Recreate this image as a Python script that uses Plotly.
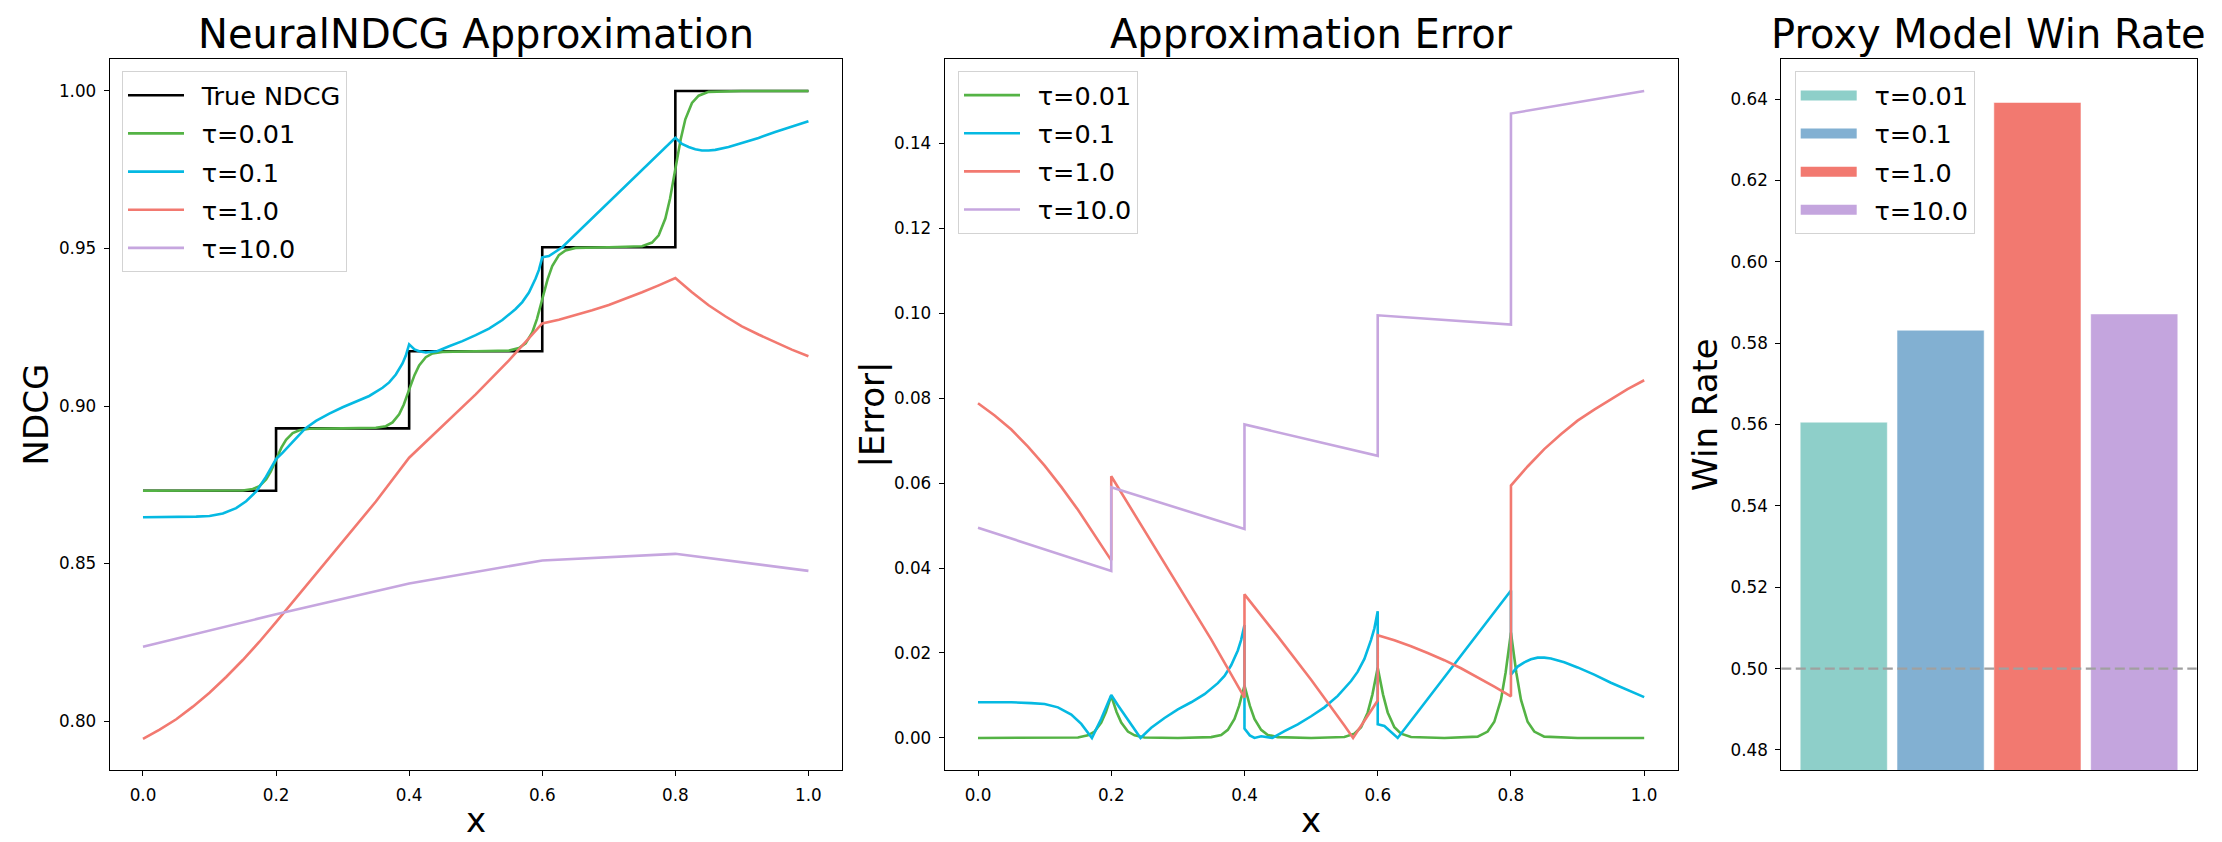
import plotly.graph_objects as go

# ---------------- data ----------------
# Left panel: NeuralNDCG approximation
x_true = [0.0, 0.2, 0.4, 0.6, 0.8, 1.0]
ndcg_true = [0.8731, 0.8929, 0.9174, 0.9504, 1.0000, 1.0000]

x_t001 = [0.0, 0.1, 0.15, 0.165, 0.175, 0.185, 0.192, 0.2, 0.208, 0.215, 0.225, 0.235, 0.25,
          0.3, 0.35, 0.365, 0.375, 0.385, 0.392, 0.4, 0.408, 0.415, 0.425, 0.435, 0.45,
          0.5, 0.55, 0.565, 0.575, 0.585, 0.592, 0.6, 0.608, 0.615, 0.625, 0.635, 0.65,
          0.7, 0.75, 0.765, 0.775, 0.785, 0.792, 0.8, 0.808, 0.815, 0.825, 0.835, 0.85,
          0.9, 1.0]
ndcg_t001 = [0.8731, 0.8731, 0.8732, 0.8737, 0.8746, 0.8767, 0.8792, 0.8830, 0.8868, 0.8893, 0.8914, 0.8923, 0.8928,
             0.8929, 0.8931, 0.8936, 0.8948, 0.8974, 0.9005, 0.9052, 0.9098, 0.9129, 0.9155, 0.9167, 0.9172,
             0.9174, 0.9176, 0.9184, 0.9199, 0.9234, 0.9276, 0.9339, 0.9402, 0.9444, 0.9479, 0.9494, 0.9502,
             0.9504, 0.9507, 0.9519, 0.9542, 0.9595, 0.9658, 0.9752, 0.9846, 0.9910, 0.9962, 0.9985, 0.9997,
             1.0000, 1.0000]

x_t01 = [0.0, 0.05, 0.08, 0.1, 0.12, 0.14, 0.155, 0.171, 0.185, 0.2,
         0.21, 0.225, 0.244, 0.26, 0.28, 0.3, 0.32, 0.34, 0.36, 0.37,
         0.38, 0.39, 0.395, 0.4, 0.408, 0.415, 0.425, 0.435, 0.442, 0.46,
         0.48, 0.5, 0.52, 0.54, 0.56, 0.57, 0.58, 0.59, 0.595, 0.6,
         0.61, 0.63, 0.66, 0.7, 0.75, 0.8, 0.81, 0.82, 0.83, 0.84,
         0.85, 0.86, 0.88, 0.9, 0.925, 0.95, 0.975, 1.0]
ndcg_t01 = [0.8647, 0.8647, 0.8649, 0.8651, 0.8659, 0.8676, 0.8698, 0.8731, 0.8776, 0.8832,
            0.8852, 0.8886, 0.8929, 0.8953, 0.8976, 0.8996, 0.9013, 0.9032, 0.9058, 0.9075,
            0.9100, 0.9135, 0.9160, 0.9196, 0.9180, 0.9174, 0.9170, 0.9172, 0.9174, 0.9190,
            0.9206, 0.9225, 0.9246, 0.9273, 0.9308, 0.9330, 0.9360, 0.9405, 0.9432, 0.9472,
            0.9476, 0.9504, 0.9565, 0.9647, 0.9749, 0.9851, 0.9832, 0.9822, 0.9815, 0.9811,
            0.9811, 0.9813, 0.9822, 0.9834, 0.9851, 0.9870, 0.9887, 0.9904]

x_t1 = [0.0, 0.025, 0.05, 0.075, 0.1, 0.125, 0.15, 0.175, 0.2, 0.25, 0.3, 0.35, 0.4,
        0.45, 0.5, 0.55, 0.6, 0.625, 0.65, 0.675, 0.7, 0.725, 0.75, 0.775, 0.8,
        0.825, 0.85, 0.875, 0.9, 0.925, 0.95, 0.975, 1.0]
ndcg_t1 = [0.7944, 0.7973, 0.8006, 0.8046, 0.8090, 0.8140, 0.8194, 0.8252, 0.8314, 0.8442, 0.8569, 0.8697, 0.8836,
           0.8935, 0.9037, 0.9145, 0.9262, 0.9274, 0.9288, 0.9304, 0.9321, 0.9340, 0.9361, 0.9383, 0.9406,
           0.9361, 0.9320, 0.9285, 0.9253, 0.9227, 0.9202, 0.9179, 0.9158]

x_t10 = [0.0, 0.2, 0.4, 0.6, 0.8, 1.0]
ndcg_t10 = [0.8236, 0.8339, 0.8437, 0.8510, 0.8531, 0.8477]

# Middle panel: absolute approximation error
x_err_t001 = x_t001
err_t001 = [0.0, 0.0, 0.0001, 0.0006, 0.0015, 0.0036, 0.0061, 0.0099, 0.0061, 0.0036, 0.0015, 0.0006, 0.0001,
            0.0, 0.0002, 0.0007, 0.0019, 0.0045, 0.0076, 0.0123, 0.0076, 0.0045, 0.0019, 0.0007, 0.0002,
            0.0, 0.0002, 0.0010, 0.0025, 0.0060, 0.0102, 0.0165, 0.0102, 0.0060, 0.0025, 0.0010, 0.0002,
            0.0, 0.0003, 0.0015, 0.0038, 0.0090, 0.0154, 0.0248, 0.0154, 0.0090, 0.0038, 0.0015, 0.0003,
            0.0, 0.0]

x_err_t01 = [0.0, 0.05, 0.08, 0.1, 0.12, 0.14, 0.155, 0.171, 0.185, 0.2,
             0.21, 0.225, 0.244, 0.26, 0.28, 0.3, 0.32, 0.34, 0.36, 0.37,
             0.38, 0.39, 0.395, 0.4, 0.4, 0.408, 0.415, 0.425, 0.435, 0.442,
             0.46, 0.48, 0.5, 0.52, 0.54, 0.56, 0.57, 0.58, 0.59, 0.595,
             0.6, 0.6, 0.61, 0.63, 0.66, 0.7, 0.75, 0.8, 0.8, 0.81,
             0.82, 0.83, 0.84, 0.85, 0.86, 0.88, 0.9, 0.925, 0.95, 0.975,
             1.0]
err_t01 = [0.0084, 0.0084, 0.0082, 0.0080, 0.0072, 0.0055, 0.0033, 0.0, 0.0045, 0.0101,
           0.0077, 0.0043, 0.0, 0.0024, 0.0047, 0.0067, 0.0084, 0.0103, 0.0129, 0.0146,
           0.0171, 0.0206, 0.0231, 0.0266, 0.0022, 0.0006, 0.0, 0.0004, 0.0002, 0.0,
           0.0016, 0.0032, 0.0051, 0.0072, 0.0099, 0.0134, 0.0156, 0.0186, 0.0231, 0.0258,
           0.0298, 0.0032, 0.0028, 0.0, 0.0061, 0.0143, 0.0245, 0.0347, 0.0149, 0.0168,
           0.0178, 0.0185, 0.0189, 0.0189, 0.0187, 0.0178, 0.0166, 0.0149, 0.0130, 0.0113,
           0.0096]

x_err_t1 = [0.0, 0.025, 0.05, 0.075, 0.1, 0.125, 0.15, 0.175, 0.2, 0.2, 0.25, 0.3, 0.35, 0.4,
            0.4, 0.45, 0.5, 0.55, 0.563, 0.6, 0.6, 0.625, 0.65, 0.675, 0.7, 0.725, 0.75, 0.775, 0.8,
            0.8, 0.825, 0.85, 0.875, 0.9, 0.925, 0.95, 0.975, 1.0]
err_t1 = [0.0788, 0.0759, 0.0726, 0.0686, 0.0641, 0.0591, 0.0537, 0.0479, 0.0418, 0.0616, 0.0487, 0.0360, 0.0232, 0.0095,
          0.0338, 0.0239, 0.0137, 0.0029, 0.0, 0.0088, 0.0242, 0.0230, 0.0216, 0.0200, 0.0183, 0.0164, 0.0143, 0.0121, 0.0098,
          0.0594, 0.0639, 0.0680, 0.0715, 0.0747, 0.0773, 0.0798, 0.0821, 0.0842]

x_err_t10 = [0.0, 0.2, 0.2, 0.4, 0.4, 0.6, 0.6, 0.8, 0.8, 1.0]
err_t10 = [0.0495, 0.0393, 0.0590, 0.0492, 0.0738, 0.0664, 0.0995, 0.0973, 0.1470, 0.1523]

# Right panel: proxy model win rate
tau_labels = ["τ=0.01", "τ=0.1", "τ=1.0", "τ=10.0"]
bar_pos = [0, 1, 2, 3]
win_rate = [0.5606, 0.5832, 0.6392, 0.5872]
win_baseline = 0.5

# ---------------- styling ----------------
FONT = "DejaVu Sans"
W, H = 2222, 842
line_colors = ["#54B345", "#05B9E2", "#F27970", "#C6A6DF"]
bar_colors = ["#8ECFC9", "#82B0D2", "#F27970", "#C4A5DE"]
LW = 2.6
GAP = "\u2002"  # visual gap between legend handle and label, as in the reference legend


def fx(p):
    return p / W


def fy(p):
    return 1 - p / H


dom_x1 = [fx(101.7), fx(833.7)]
dom_x2 = [fx(936.7), fx(1669.5)]
dom_x3 = [fx(1773.3), fx(2188.7)]
dom_y = [fy(762.3), fy(50.5)]

fig = go.Figure()

# left panel
fig.add_trace(go.Scatter(x=x_true, y=ndcg_true, mode="lines", name=GAP + "True NDCG",
                         line=dict(color="black", width=LW, shape="hv"),
                         xaxis="x", yaxis="y", legend="legend", legendgroup="l0"))
left_series = [(x_t001, ndcg_t001), (x_t01, ndcg_t01), (x_t1, ndcg_t1), (x_t10, ndcg_t10)]
for i, (xs, ys) in enumerate(left_series):
    fig.add_trace(go.Scatter(x=xs, y=ys, mode="lines", name=GAP + tau_labels[i],
                             line=dict(color=line_colors[i], width=LW),
                             xaxis="x", yaxis="y", legend="legend", legendgroup=f"l{i+1}"))

# middle panel
mid_series = [(x_err_t001, err_t001), (x_err_t01, err_t01), (x_err_t1, err_t1), (x_err_t10, err_t10)]
for i, (xs, ys) in enumerate(mid_series):
    fig.add_trace(go.Scatter(x=xs, y=ys, mode="lines", name=GAP + tau_labels[i],
                             line=dict(color=line_colors[i], width=LW),
                             xaxis="x2", yaxis="y2", legend="legend2", legendgroup=f"m{i}"))

# right panel
fig.add_trace(go.Bar(x=bar_pos, y=win_rate, width=0.9, showlegend=False,
                     marker=dict(color=bar_colors, line=dict(color="rgba(255,255,255,0.55)", width=1)),
                     xaxis="x3", yaxis="y3"))
for i in range(4):
    fig.add_trace(go.Scatter(x=[None], y=[None], mode="lines", name=GAP + tau_labels[i],
                             line=dict(color=bar_colors[i], width=18),
                             xaxis="x3", yaxis="y3", legend="legend3", legendgroup=f"r{i}"))

axis_common = dict(showline=True, mirror=True, linecolor="black", linewidth=1.1,
                   ticks="outside", ticklen=5, tickwidth=1.1, tickcolor="black",
                   showgrid=False, zeroline=False, ticklabelstandoff=4,
                   tickfont=dict(family=FONT, size=16.8, color="black"))

legend_common = dict(xanchor="left", yanchor="top", bgcolor="rgba(255,255,255,0.8)",
                     bordercolor="#d3d3d3", borderwidth=1, itemwidth=56, tracegroupgap=2,
                     font=dict(family=FONT, size=25.5, color="black"))

ann = []
TITLE_SIZE = 40
LABEL_SIZE = 34
centers = [(dom_x1[0] + dom_x1[1]) / 2, (dom_x2[0] + dom_x2[1]) / 2, (dom_x3[0] + dom_x3[1]) / 2]
titles = ["NeuralNDCG Approximation", "Approximation Error", "Proxy Model Win Rate"]
for c, t in zip(centers, titles):
    ann.append(dict(text=t, x=c, y=dom_y[1], xref="paper", yref="paper", xanchor="center",
                    yanchor="bottom", showarrow=False, font=dict(family=FONT, size=TITLE_SIZE, color="black")))
for c in centers[:2]:
    ann.append(dict(text="x", x=c, y=fy(834), xref="paper", yref="paper", xanchor="center",
                    yanchor="bottom", showarrow=False, font=dict(family=FONT, size=LABEL_SIZE, color="black")))
ymid = (dom_y[0] + dom_y[1]) / 2
for t, xr in [("NDCG", 50.0), ("|Error|", 886.0), ("Win Rate", 1719.5)]:
    ann.append(dict(text=t, x=fx(xr), y=ymid, xref="paper", yref="paper", xanchor="right",
                    yanchor="middle", textangle=-90, showarrow=False,
                    font=dict(family=FONT, size=LABEL_SIZE, color="black")))

fig.update_layout(
    width=W, height=H, margin=dict(l=0, r=0, t=0, b=0),
    paper_bgcolor="white", plot_bgcolor="white",
    font=dict(family=FONT, color="black"),
    barmode="overlay",
    xaxis=dict(domain=dom_x1, anchor="y", range=[-0.05, 1.05], tick0=0, dtick=0.2, tickformat=".1f", **axis_common),
    yaxis=dict(domain=dom_y, anchor="x", range=[0.7844, 1.0103], tick0=0.8, dtick=0.05, tickformat=".2f", **axis_common),
    xaxis2=dict(domain=dom_x2, anchor="y2", range=[-0.05, 1.05], tick0=0, dtick=0.2, tickformat=".1f", **axis_common),
    yaxis2=dict(domain=dom_y, anchor="x2", range=[-0.00762, 0.15995], tick0=0, dtick=0.02, tickformat=".2f", **axis_common),
    xaxis3=dict(domain=dom_x3, anchor="y3", range=[-0.645, 3.645], showline=True, mirror=True,
                linecolor="black", linewidth=1.1, ticks="", showticklabels=False, showgrid=False, zeroline=False),
    yaxis3=dict(domain=dom_y, anchor="x3", range=[0.475, 0.65], tick0=0.48, dtick=0.02, tickformat=".2f", **axis_common),
    legend=dict(x=fx(114), y=fy(63.2), **legend_common),
    legend2=dict(x=fx(950), y=fy(63.0), **legend_common),
    legend3=dict(x=fx(1786.7), y=fy(63.3), **legend_common),
    shapes=[dict(type="line", xref="x3 domain", yref="y3", x0=0, x1=1, y0=win_baseline, y1=win_baseline,
                 line=dict(color="#a0a0a0", width=2.2, dash="10px,4.5px"), layer="above")],
    annotations=ann,
    showlegend=True,
)

fig.write_html("out.html")
